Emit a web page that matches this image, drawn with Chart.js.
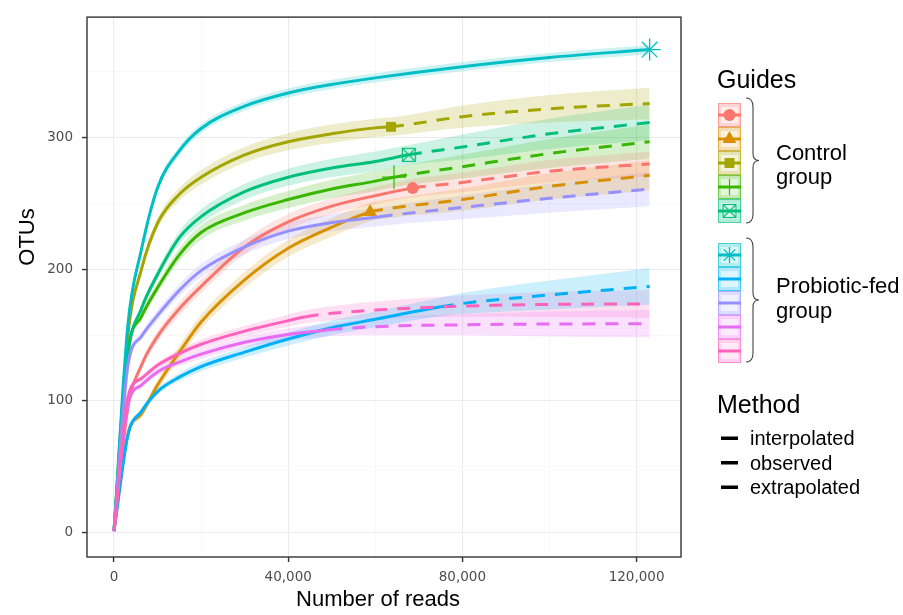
<!DOCTYPE html>
<html>
<head>
<meta charset="utf-8">
<script src="https://cdn.jsdelivr.net/npm/chart.js@4"></script>
<style>
  html, body { margin: 0; padding: 0; background: #fff; }
</style>
</head>
<body>
<canvas id="rare" width="903" height="615"></canvas>
<script>
// read depths where every curve is sampled
const reads = [0, 3200, 6300, 10000, 15000, 20000, 30000, 40000, 50000, 60000, 80000, 100000, 123000];

// control group, estimated OTUs along reads
const otusC1 = [1, 95, 127, 149, 170, 187, 217, 236, 248, 256, 266, 274.5, 280];
const otusC2 = [1, 75, 90, 112, 137, 160, 192, 216, 232, 244.5, 253, 263, 271.4];
const otusC3 = [1, 150, 200, 235, 257, 270, 287, 297, 303, 307.5, 316, 322, 326];
const otusC4 = [1, 137, 164, 186, 211, 228, 243, 253, 261, 267, 278, 288, 297];
const otusC5 = [1, 135, 170, 196, 224, 240, 259, 270, 277, 282, 293, 303, 311.5];
// probiotic-fed group
const otusP1 = [1, 158, 215, 262, 290, 307, 324, 334, 340.5, 345.5, 354, 361, 367];
const otusP2 = [1, 74, 92, 107, 118, 126, 137, 147, 155.6, 162, 174, 180.5, 187];
const otusP3 = [1, 127, 149, 165, 184, 199, 217, 229, 235.5, 239.5, 247, 254, 261];
const otusP4 = [1, 97, 112, 122, 129.5, 135.5, 144.5, 150.5, 154.2, 156.4, 157.8, 158.4, 158.6];
const otusP5 = [1, 103, 117, 127, 136, 143, 153, 161, 166.5, 169, 172, 173.3, 173.7];

// half width of the 95% confidence band on the same grid
const ciC1 = [0, 2, 3, 4, 5, 5, 5.5, 6, 6, 6.5, 7.5, 8.5, 9.5];
const ciC2 = [0, 2, 3, 4, 5, 5.5, 6, 6.5, 7, 7, 8.5, 10, 11.5];
const ciC3 = [0, 2, 3, 4, 5, 5.5, 6, 6.5, 7, 7, 8.5, 10.5, 12];
const ciC4 = [0, 2, 3, 4, 5, 5.5, 6, 6.5, 7, 7.5, 9, 11, 13];
const ciC5 = [0, 2, 3, 4, 5, 5.5, 6, 6.5, 7, 7.5, 9.5, 11.5, 13.5];
const ciP1 = [0, 2, 2.5, 3, 3.5, 3.5, 3.5, 3.5, 3.5, 3.5, 3.5, 3.5, 3.5];
const ciP2 = [0, 1.5, 2, 2.5, 3, 3.5, 4, 5, 5.5, 6, 8, 11, 14];
const ciP3 = [0, 2, 3, 4, 4.5, 5, 5.5, 6, 6.5, 7, 9, 11, 13];
const ciP4 = [0, 1.5, 2, 2.5, 3, 3.5, 4, 4.5, 5, 6.5, 8, 9.5, 10.5];
const ciP5 = [0, 1.5, 2, 2.5, 3, 3.5, 4, 4.5, 5.5, 6.5, 8, 9.5, 10.5];

// observed sample: reads, OTUs and band half width
const obsReads = [68600, 58800, 63600, 64300, 67700, 123000, 75000, 61000, 49500, 44000];
const obsOtus = [261.7, 243.6, 308.3, 270, 287, 367, 171.5, 240, 154, 164];
const obsCi = [7, 7, 7, 7.5, 7.5, 3.5, 7, 7, 5, 5];

const groupNames = [["Control", "group"], ["Probiotic-fed", "group"]];
const methodNames = ["interpolated", "observed", "extrapolated"];

// labelled ticks and the minor grid in between
const xTicks = [0, 40000, 80000, 120000];
const xGrid = [0, 20000, 40000, 60000, 80000, 100000, 120000];
const yTicks = [0, 100, 200, 300];
const yGrid = [0, 50, 100, 150, 200, 250, 300, 350];

// hollow square with a cross inside (ggplot shape 7)
function boxCross(color) {
  const c = document.createElement("canvas");
  c.width = 16; c.height = 16;
  const g = c.getContext("2d");
  g.strokeStyle = color;
  g.lineWidth = 1.2;
  g.strokeRect(1.5, 1.5, 13, 13);
  g.beginPath();
  g.moveTo(1.5, 1.5); g.lineTo(14.5, 14.5);
  g.moveTo(14.5, 1.5); g.lineTo(1.5, 14.5);
  g.stroke();
  return c;
}

const samples = [
  { otus: otusC1, ci: ciC1, color: "#F8766D", marker: "circle", r: 6, bw: 0 },
  { otus: otusC2, ci: ciC2, color: "#D89000", marker: "triangle", r: 8, bw: 0 },
  { otus: otusC3, ci: ciC3, color: "#A3A500", marker: "rect", r: 7, bw: 0 },
  { otus: otusC4, ci: ciC4, color: "#39B600", marker: "cross", r: 12, bw: 1.2 },
  { otus: otusC5, ci: ciC5, color: "#00BF7D", marker: boxCross("#00BF7D"), r: 8, bw: 0 },
  { otus: otusP1, ci: ciP1, color: "#00BFC4", marker: "star", r: 11, bw: 1.3 },
  { otus: otusP2, ci: ciP2, color: "#00B0F6", marker: null, r: 0, bw: 0 },
  { otus: otusP3, ci: ciP3, color: "#9590FF", marker: null, r: 0, bw: 0 },
  { otus: otusP4, ci: ciP4, color: "#E76BF3", marker: null, r: 0, bw: 0 },
  { otus: otusP5, ci: ciP5, color: "#FF62BC", marker: null, r: 0, bw: 0 },
];

function rgba(hex, a) {
  const n = parseInt(hex.slice(1), 16);
  return `rgba(${n >> 16},${(n >> 8) & 255},${n & 255},${a})`;
}

// grid points before the observed depth, the observed point, then the rest
function curve(vals, k, shift) {
  const ox = obsReads[k];
  const pts = [];
  reads.forEach((r, i) => { if (r < ox) pts.push({ x: r, y: vals[i] + shift(i) }); });
  pts.push({ x: ox, y: obsOtus[k] + shift(-1) });
  reads.forEach((r, i) => { if (r > ox) pts.push({ x: r, y: vals[i] + shift(i) }); });
  return pts;
}

const datasets = [];
samples.forEach((s, k) => {
  const ci = i => (i < 0 ? obsCi[k] : s.ci[i]);
  const base = { borderWidth: 0, pointRadius: 0, cubicInterpolationMode: "monotone", order: 100 + k };
  datasets.push({ ...base, data: curve(s.otus, k, i => ci(i)), fill: false });
  datasets.push({ ...base, data: curve(s.otus, k, i => -ci(i)), fill: "-1", backgroundColor: rgba(s.color, 0.2) });
});
samples.forEach((s, k) => {
  const ox = obsReads[k];
  datasets.push({
    data: curve(s.otus, k, () => 0),
    borderColor: s.color,
    borderWidth: 3,
    fill: false,
    cubicInterpolationMode: "monotone",
    order: 20 - k,
    segment: { borderDash: c => (c.p0.parsed.x >= ox ? [13, 10] : undefined) },
    pointStyle: s.marker || "circle",
    pointRadius: c => (s.marker && c.raw && c.raw.x === ox ? s.r : 0),
    pointBackgroundColor: s.color,
    pointBorderColor: s.color,
    pointBorderWidth: s.bw,
    pointHitRadius: 0,
  });
});

const tickFont = { family: "DejaVu Sans", size: 13.5 };
const sans = '"Liberation Sans", Arial, sans-serif';

// full panel frame on top of the curves
const frame = {
  id: "frame",
  afterDatasetsDraw(chart) {
    const { left, top, right, bottom } = chart.chartArea;
    const ctx = chart.ctx;
    ctx.save();
    ctx.strokeStyle = "#333";
    ctx.lineWidth = 1.4;
    ctx.strokeRect(left, top, right - left, bottom - top);
    ctx.restore();
  },
};

// axis titles, placed like the ggplot layout
const axisTitles = {
  id: "axisTitles",
  afterDraw(chart) {
    const ctx = chart.ctx;
    ctx.save();
    ctx.fillStyle = "#000";
    ctx.font = "22px " + sans;
    ctx.textAlign = "center";
    ctx.textBaseline = "middle";
    ctx.fillText("Number of reads", 378, 600);
    ctx.translate(28, 237);
    ctx.rotate(-Math.PI / 2);
    ctx.fillText("OTUs", 0, 0);
    ctx.restore();
  },
};

function brace(ctx, x, y0, y1) {
  const mid = (y0 + y1) / 2;
  ctx.beginPath();
  ctx.moveTo(x, y0);
  ctx.quadraticCurveTo(x + 7, y0, x + 7, y0 + 9);
  ctx.lineTo(x + 7, mid - 7);
  ctx.quadraticCurveTo(x + 7, mid, x + 13, mid);
  ctx.quadraticCurveTo(x + 7, mid, x + 7, mid + 7);
  ctx.lineTo(x + 7, y1 - 9);
  ctx.quadraticCurveTo(x + 7, y1, x, y1);
  ctx.stroke();
}

// right-hand guide: sample keys with group braces, then line types
const guides = {
  id: "guides",
  afterDraw(chart) {
    const ctx = chart.ctx;
    const keyX = 718, keyW = 23, keyH = 24;
    ctx.save();
    ctx.fillStyle = "#000";
    ctx.font = "25px " + sans;
    ctx.fillText("Guides", 717, 88);
    ctx.fillText("Method", 717, 413);

    samples.forEach((s, k) => {
      const top = k < 5 ? 103 + k * keyH : 243 + (k - 5) * keyH;
      ctx.fillStyle = rgba(s.color, 0.3);
      ctx.fillRect(keyX, top, keyW, keyH);
      ctx.fillStyle = "rgba(255,255,255,0.55)";
      ctx.fillRect(keyX + 3, top + 4, keyW - 6, keyH - 8);
      ctx.strokeStyle = rgba(s.color, 0.6);
      ctx.lineWidth = 1;
      ctx.strokeRect(keyX + 0.5, top + 0.5, keyW - 1, keyH - 1);
      ctx.strokeStyle = s.color;
      ctx.lineWidth = 3;
      ctx.beginPath();
      ctx.moveTo(keyX, top + keyH / 2);
      ctx.lineTo(keyX + keyW, top + keyH / 2);
      ctx.stroke();
      if (s.marker) {
        ctx.fillStyle = s.color;
        ctx.strokeStyle = s.color;
        ctx.lineWidth = s.bw || 1;
        Chart.helpers.drawPoint(ctx, { pointStyle: s.marker, radius: Math.min(s.r, 8), rotation: 0, borderWidth: s.bw }, keyX + keyW / 2, top + keyH / 2);
      }
    });

    ctx.strokeStyle = "#444";
    ctx.lineWidth = 1.1;
    brace(ctx, 746, 98, 223);
    brace(ctx, 746, 238, 362);

    ctx.fillStyle = "#000";
    ctx.font = "22px " + sans;
    ctx.fillText(groupNames[0][0], 776, 160);
    ctx.fillText(groupNames[0][1], 776, 184);
    ctx.fillText(groupNames[1][0], 776, 293);
    ctx.fillText(groupNames[1][1], 776, 318);

    ctx.font = "20px " + sans;
    methodNames.forEach((m, i) => {
      const y = 438 + i * 24.5;
      ctx.fillRect(721, y - 1.5, 17, 3.5);
      ctx.fillText(m, 750, y + 7);
    });
    ctx.restore();
  },
};

const gridOpts = major => ({
  color: c => (major.includes(c.tick.value) ? "#ebebeb" : "#f4f4f4"),
  lineWidth: c => (major.includes(c.tick.value) ? 1.1 : 0.6),
  tickColor: c => (major.includes(c.tick.value) ? "#333" : "rgba(0,0,0,0)"),
  tickLength: 5,
  tickWidth: 1.4,
});

new Chart(document.getElementById("rare"), {
  type: "line",
  data: { datasets },
  plugins: [frame, axisTitles, guides],
  options: {
    responsive: false,
    devicePixelRatio: 1,
    animation: false,
    events: [],
    layout: { padding: { top: 11, right: 222, left: 0, bottom: 0 } },
    plugins: { legend: { display: false }, tooltip: { enabled: false } },
    scales: {
      x: {
        type: "linear",
        min: -6200,
        max: 130200,
        afterBuildTicks: s => { s.ticks = xGrid.map(v => ({ value: v })); },
        afterFit: s => { s.height = 58; },
        border: { display: false },
        grid: gridOpts(xTicks),
        ticks: {
          autoSkip: false,
          maxRotation: 0,
          padding: 7,
          color: "#4d4d4d",
          font: tickFont,
          callback: v => (xTicks.includes(v) ? v.toLocaleString("en-US") : ""),
        },
      },
      y: {
        min: -18.7,
        max: 391.7,
        afterBuildTicks: s => { s.ticks = yGrid.map(v => ({ value: v })); },
        afterFit: s => { s.width = 87; },
        border: { display: false },
        grid: gridOpts(yTicks),
        ticks: {
          autoSkip: false,
          padding: 9,
          color: "#4d4d4d",
          font: tickFont,
          callback: v => (yTicks.includes(v) ? String(v) : ""),
        },
      },
    },
  },
});
</script>
</body>
</html>
